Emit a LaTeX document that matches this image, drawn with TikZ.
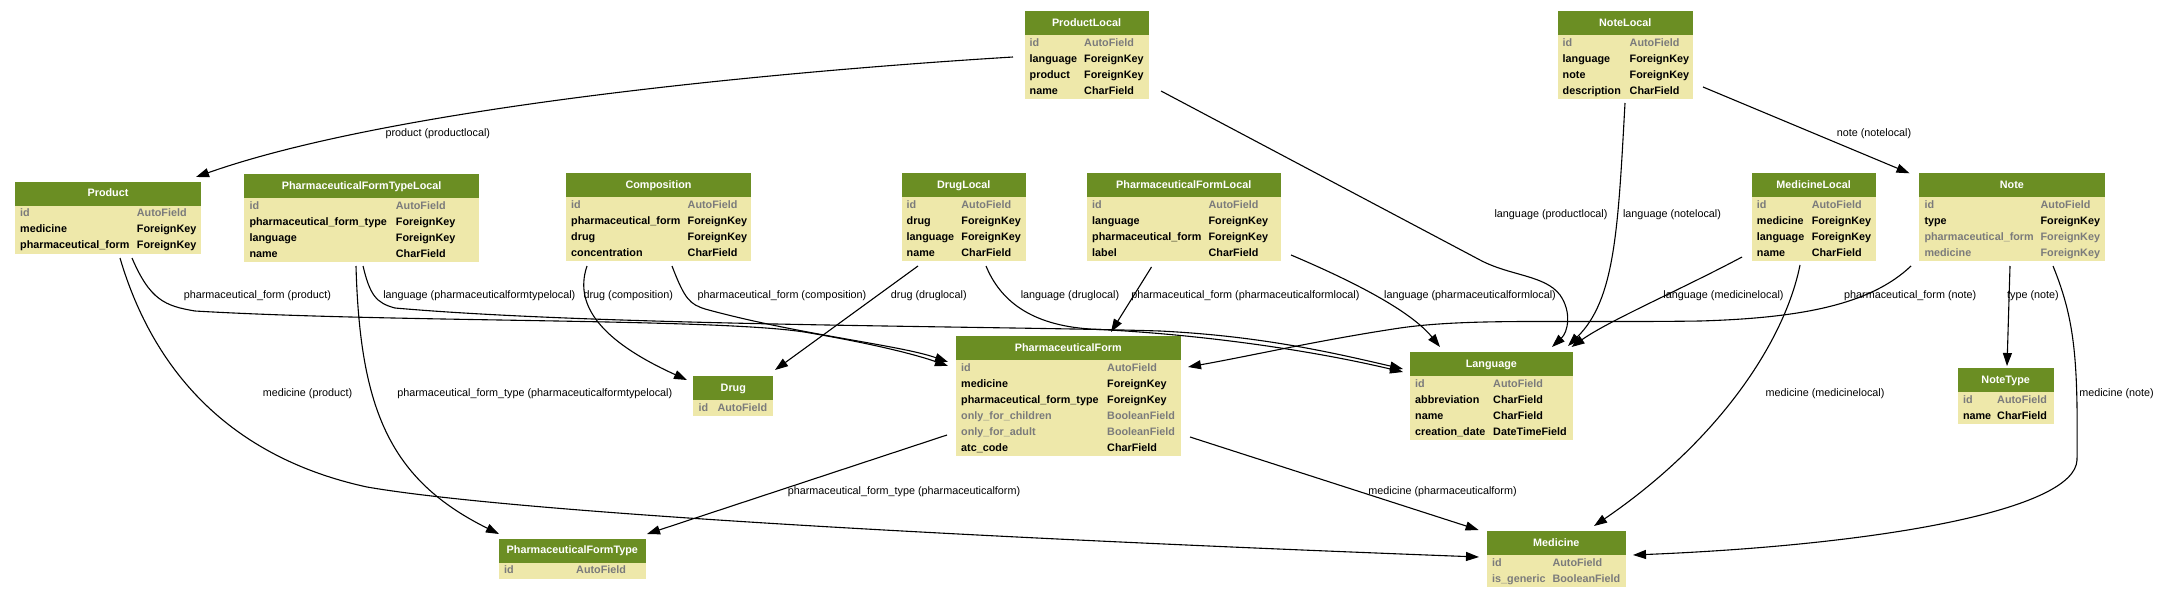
\documentclass[tikz,border=0pt]{standalone}
\usepackage{fontspec}
\setmainfont{Liberation Sans}
\usetikzlibrary{arrows.meta,calc}
\definecolor{hdrgreen}{HTML}{6B8E23}
\definecolor{pgold}{HTML}{EEE8AA}
\definecolor{fgray}{HTML}{7B7B7B}
\tikzset{
  tblbody/.style={fill=pgold, draw=none, inner sep=0pt, outer sep=0pt, anchor=north west},
  hdrtext/.style={text=white, font=\fontsize{10.8}{13}\selectfont\bfseries, anchor=base, inner sep=0pt},
  fld/.style={font=\fontsize{10.8}{13}\selectfont\bfseries, anchor=base west, inner sep=0pt},
  fg/.style={text=fgray},
  fb/.style={text=black},
  fk/.style={draw=black, line width=1.1pt, -{Triangle[length=13pt,width=9pt]}},
  elab/.style={font=\fontsize{10.8}{13}\selectfont, anchor=mid, inner sep=0pt},
}
\newcommand{\mtab}[8]{%
  \pgfmathsetmacro{\mtW}{#4-#2}%
  \pgfmathsetmacro{\mtH}{24+16*#6}%
  \node[tblbody, minimum width=\mtW pt, minimum height=\mtH pt] (#1) at (#2,#3) {};
  \fill[hdrgreen] (#2,#3) rectangle (#4,#3+24);
  \node[hdrtext] (#1-t) at ({(#2+#4)/2},#3+15) {#7};
  \foreach \colA/\colB/\colS [count=\rowi from 0] in {#8} {
    \node[fld,\colS] (#1-a\rowi) at (#2+5,#3+35+16*\rowi) {\colA};
    \node[fld,\colS] (#1-b\rowi) at (#5,#3+35+16*\rowi) {\colB};
  }%
}
\begin{document}
\begin{tikzpicture}[x=1pt,y=-1pt]
\useasboundingbox (0,0) rectangle (2159,597);
\fill[white] (0,0) rectangle (2159,597);

% tables
\mtab{pl}{1024.5}{11}{1148.5}{1084}{4}{ProductLocal}{id/AutoField/fg, language/ForeignKey/fb, product/ForeignKey/fb, name/CharField/fb}
\mtab{nl}{1557.5}{11}{1693}{1629.5}{4}{NoteLocal}{id/AutoField/fg, language/ForeignKey/fb, note/ForeignKey/fb, description/CharField/fb}
\mtab{product}{15}{181.5}{201}{136.7}{3}{Product}{id/AutoField/fg, medicine/ForeignKey/fb, pharmaceutical\_form/ForeignKey/fb}
\mtab{pftl}{244.3}{174}{479}{395.7}{4}{PharmaceuticalFormTypeLocal}{id/AutoField/fg, pharmaceutical\_form\_type/ForeignKey/fb, language/ForeignKey/fb, name/CharField/fb}
\mtab{comp}{566}{173.3}{751}{687.5}{4}{Composition}{id/AutoField/fg, pharmaceutical\_form/ForeignKey/fb, drug/ForeignKey/fb, concentration/CharField/fb}
\mtab{dl}{901.5}{173.3}{1026}{961.2}{4}{DrugLocal}{id/AutoField/fg, drug/ForeignKey/fb, language/ForeignKey/fb, name/CharField/fb}
\mtab{pfl}{1087}{173.3}{1280.5}{1208.4}{4}{PharmaceuticalFormLocal}{id/AutoField/fg, language/ForeignKey/fb, pharmaceutical\_form/ForeignKey/fb, label/CharField/fb}
\mtab{ml}{1751.7}{173.3}{1875.5}{1811.6}{4}{MedicineLocal}{id/AutoField/fg, medicine/ForeignKey/fb, language/ForeignKey/fb, name/CharField/fb}
\mtab{note}{1919.3}{173.3}{2104.5}{2040.4}{4}{Note}{id/AutoField/fg, type/ForeignKey/fb, pharmaceutical\_form/ForeignKey/fg, medicine/ForeignKey/fg}
\mtab{pf}{956}{336}{1180.5}{1107}{6}{PharmaceuticalForm}{id/AutoField/fg, medicine/ForeignKey/fb, pharmaceutical\_form\_type/ForeignKey/fb, only\_for\_children/BooleanField/fg, only\_for\_adult/BooleanField/fg, atc\_code/CharField/fb}
\mtab{drug}{693.3}{376}{773.3}{717.3}{1}{Drug}{id/AutoField/fg}
\mtab{lang}{1410}{352.3}{1572.7}{1493}{4}{Language}{id/AutoField/fg, abbreviation/CharField/fb, name/CharField/fb, creation\_date/DateTimeField/fb}
\mtab{nt}{1957.8}{368.3}{2053.5}{1997}{2}{NoteType}{id/AutoField/fg, name/CharField/fb}
\mtab{pft}{499}{538.7}{645.7}{576}{1}{PharmaceuticalFormType}{id/AutoField/fg}
\mtab{med}{1487}{531}{1625.6}{1552.3}{2}{Medicine}{id/AutoField/fg, is\_generic/BooleanField/fg}

% connectors
\draw[fk] ($(pl.north west)+(-11.5,46)$) .. controls (800,70) and (400,105) .. ($(product.north west)+(181,-4.5)$);
\draw[fk] ($(pl.north west)+(136.5,80)$) -- (1480,260) .. controls (1510,276) and (1545,275) .. (1560,295) .. controls (1572,312) and (1568,332) .. ($(lang.north west)+(142,-5.3)$);
\draw[fk] ($(nl.north west)+(67.5,92)$) .. controls (1618,230) and (1615,300) .. ($(lang.north west)+(158,-6.3)$);
\draw[fk] ($(nl.north west)+(145.5,76)$) -- ($(note.north west)+(-9.8,0)$);
\draw[fk] ($(ml.north west)+(-9.7,83.7)$) .. controls (1680,290) and (1610,320) .. ($(lang.north west)+(161.5,-5.3)$);
\draw[fk] ($(ml.north west)+(48.3,91.7)$) .. controls (1785,340) and (1720,440) .. ($(med.north west)+(107,-5)$);
\draw[fk] ($(note.north west)+(-8.3,92.7)$) .. controls (1870,305) and (1800,318) .. (1700,321) .. controls (1560,323) and (1470,318) .. (1400,328) .. controls (1320,340) and (1250,356) .. ($(pf.north west)+(232,31)$);
\draw[fk] ($(note.north west)+(90.7,92.7)$) -- ($(nt.north west)+(49.2,-2.3)$);
\draw[fk] ($(note.north west)+(133.7,92.7)$) .. controls (2075,320) and (2078,360) .. (2077,460) .. controls (2075,510) and (1880,545) .. ($(med.north west)+(146,24)$);
\draw[fk] ($(pf.north west)+(234,101)$) -- ($(med.north west)+(-8.4,-1)$);
\draw[fk] ($(pf.north west)+(-9,99)$) -- ($(pft.north west)+(148,-4.7)$);
\draw[fk] ($(product.north west)+(105,76.5)$) .. controls (150,360) and (220,455) .. (367,487) .. controls (500,510) and (900,535) .. ($(med.north west)+(-8,26)$);
\draw[fk] ($(product.north west)+(117,76.5)$) .. controls (150,300) and (165,306) .. (195,311) .. controls (400,323) and (730,318) .. (810,333) .. controls (880,345) and (920,356) .. ($(pf.north west)+(-8,30)$);
\draw[fk] ($(pftl.north west)+(111.7,92)$) .. controls (360,410) and (390,480) .. ($(pft.north west)+(0,-4.7)$);
\draw[fk] ($(pftl.north west)+(118.7,92)$) .. controls (370,295) and (376,303) .. (395,308) .. controls (600,326) and (1000,326) .. (1160,331) .. controls (1260,336) and (1330,352) .. ($(lang.north west)+(-7,16.7)$);
\draw[fk] ($(comp.north west)+(21,92.7)$) .. controls (572,310) and (610,345) .. ($(drug.north west)+(-6.3,4)$);
\draw[fk] ($(comp.north west)+(106,92.7)$) .. controls (685,300) and (690,304) .. (705,309) .. controls (800,335) and (900,345) .. ($(pf.north west)+(-8,26)$);
\draw[fk] ($(dl.north west)+(16.5,92.7)$) -- ($(drug.north west)+(81.7,-6)$);
\draw[fk] ($(dl.north west)+(84.5,92.7)$) .. controls (1000,300) and (1030,325) .. (1090,329) .. controls (1200,334) and (1310,350) .. ($(lang.north west)+(-7,19.7)$);
\draw[fk] ($(pfl.north west)+(64.5,93.7)$) -- ($(pf.north west)+(155,-4)$);
\draw[fk] ($(pfl.north west)+(204,81.7)$) .. controls (1350,280) and (1410,310) .. ($(lang.north west)+(30,-5.3)$);

% connector labels
\node[elab] (l1) at (437.8,133.6) {product (productlocal)};
\node[elab] (l2) at (1551,215) {language (productlocal)};
\node[elab] (l3) at (1672,215) {language (notelocal)};
\node[elab] (l4) at (1874,134) {note (notelocal)};
\node[elab] (l5) at (257.4,296) {pharmaceutical\_form (product)};
\node[elab] (l6) at (479.3,296) {language (pharmaceuticalformtypelocal)};
\node[elab] (l7) at (628.3,296) {drug (composition)};
\node[elab] (l8) at (782,296) {pharmaceutical\_form (composition)};
\node[elab] (l9) at (928.8,296) {drug (druglocal)};
\node[elab] (l10) at (1070,296) {language (druglocal)};
\node[elab] (l11) at (1245.4,296) {pharmaceutical\_form (pharmaceuticalformlocal)};
\node[elab] (l12) at (1470,296) {language (pharmaceuticalformlocal)};
\node[elab] (l13) at (1723.5,296) {language (medicinelocal)};
\node[elab] (l14) at (1910.2,296) {pharmaceutical\_form (note)};
\node[elab] (l15) at (2033,296) {type (note)};
\node[elab] (l16) at (307.5,394.3) {medicine (product)};
\node[elab] (l17) at (534.8,394.3) {pharmaceutical\_form\_type (pharmaceuticalformtypelocal)};
\node[elab] (l18) at (1825,394.3) {medicine (medicinelocal)};
\node[elab] (l19) at (2116.5,394.3) {medicine (note)};
\node[elab] (l20) at (904,491.7) {pharmaceutical\_form\_type (pharmaceuticalform)};
\node[elab] (l21) at (1442.5,491.7) {medicine (pharmaceuticalform)};
\end{tikzpicture}
\end{document}
